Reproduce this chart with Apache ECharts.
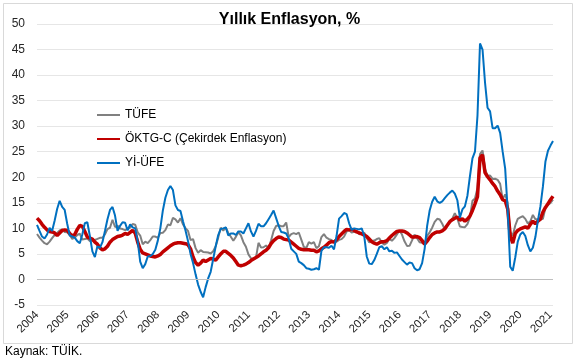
<!DOCTYPE html>
<html><head><meta charset="utf-8">
<script src="https://cdn.jsdelivr.net/npm/echarts@6/dist/echarts.min.js"></script>
<style>html,body{margin:0;padding:0;background:#fff}#c{width:579px;height:361px}</style>
</head><body><div id="c"></div>
<script>
const years = [2004,2005,2006,2007,2008,2009,2010,2011,2012,2013,2014,2015,2016,2017,2018,2019,2020,2021];
const lastYearMonths = 2;
const yTicks = {min: -5, max: 50, step: 5};

const tufe = [
8.9,8.2,7.6,7.1,6.9,7.4,8.1,8.7,9.1,9.6,9.8,9.3,
9.24,8.69,7.94,8.18,8.70,8.95,7.82,7.91,7.99,7.52,7.61,7.72,
7.93,8.15,8.16,8.83,9.86,10.12,11.69,10.26,10.55,9.98,9.86,9.65,
9.93,10.16,10.86,10.72,9.23,8.60,6.90,7.39,7.12,7.70,8.40,8.39,
8.17,9.10,9.15,9.66,10.74,10.61,12.06,11.77,11.13,11.99,10.76,10.06,
9.50,7.73,7.89,6.13,5.24,5.73,5.39,5.33,5.27,5.08,5.53,6.53,
8.19,10.13,9.56,10.19,9.10,8.37,7.58,8.33,9.24,8.62,7.29,6.40,
4.90,4.16,3.99,4.26,7.17,6.24,6.31,6.65,6.15,7.66,9.48,10.45,
10.61,10.43,10.43,11.14,8.28,8.87,9.07,8.88,9.19,7.80,6.37,6.16,
7.31,7.03,7.29,6.13,6.51,8.30,8.88,8.17,7.88,7.71,7.32,7.40,
7.75,7.89,8.39,9.38,9.66,9.16,9.32,9.54,8.86,8.96,9.15,8.17,
7.24,7.55,7.61,7.91,8.09,7.20,6.81,7.14,7.95,7.58,8.10,8.81,
9.58,8.78,7.46,6.57,6.58,7.64,8.79,8.05,7.28,7.16,7.00,8.53,
9.22,10.13,11.29,11.87,11.72,10.90,9.79,10.68,11.20,11.90,12.98,11.92,
10.35,10.26,10.23,10.85,12.15,15.39,15.85,17.90,24.52,25.24,21.62,20.30,
20.35,19.67,19.71,19.50,18.71,15.72,16.65,15.01,9.26,8.55,10.56,11.84,
12.15,12.37,11.86,10.94,11.39,12.62,11.76,11.77,11.75,11.89,14.03,14.60,
14.97,15.61];

const oktgc = [
12.0,11.5,10.8,10.2,9.7,9.4,9.3,9.1,8.6,9.1,9.6,9.7,
9.6,9.0,8.5,8.8,9.8,10.6,10.4,9.4,8.3,8.1,7.9,7.3,
6.9,6.2,5.8,6.0,6.5,7.3,7.8,8.1,8.4,8.5,8.7,9.0,
8.8,9.2,9.6,9.1,7.3,5.9,5.2,5.0,4.8,4.6,4.5,4.4,
4.6,4.9,5.4,5.8,6.2,6.6,6.9,7.1,7.2,7.2,7.1,7.0,
6.8,6.0,4.4,3.3,2.8,3.2,3.8,3.5,3.8,4.1,4.0,3.8,
4.4,5.0,5.5,5.5,5.1,4.7,4.2,3.5,2.8,2.7,2.8,3.0,
3.3,3.7,4.0,4.3,4.6,5.0,5.4,5.7,6.2,7.0,7.6,8.0,
8.3,8.2,7.9,7.8,7.7,7.3,6.9,6.5,6.1,5.9,5.8,5.8,
5.8,5.7,5.7,5.4,5.6,6.0,6.3,6.7,7.2,7.4,7.3,7.8,
8.4,8.9,9.4,9.8,9.7,9.8,9.6,9.3,9.1,8.9,8.7,8.4,
7.9,7.4,7.1,6.9,7.2,7.4,7.4,7.6,8.1,8.6,9.0,9.4,
9.5,9.5,9.4,9.1,8.7,8.3,8.3,8.4,8.2,7.6,6.9,7.5,
8.2,8.8,9.1,9.3,9.3,9.5,9.9,10.6,11.3,11.7,12.0,12.2,
11.6,11.9,11.4,11.8,12.4,13.5,14.8,16.2,23.8,24.4,20.9,20.1,
19.5,18.8,18.2,17.3,16.6,15.6,15.4,13.8,8.6,7.1,9.0,9.6,
9.9,10.1,10.3,10.0,10.8,11.4,10.9,11.4,11.8,13.2,14.1,14.8,
15.6,16.3];

const yiufe = [
10.7,9.5,8.4,8.0,8.8,10.1,9.5,11.5,13.8,15.4,14.2,13.6,
10.9,8.6,8.4,8.2,7.5,7.1,8.8,11.0,11.2,8.5,5.5,4.4,
6.5,6.2,7.3,9.5,11.8,13.6,14.2,12.5,9.5,10.5,11.2,11.1,
9.6,10.8,10.2,10.0,7.5,3.5,2.2,3.0,4.5,4.6,5.0,5.8,
7.6,10.0,13.5,16.0,17.5,18.3,17.5,14.5,13.6,13.4,11.4,9.6,
7.5,5.0,3.2,1.0,-1.0,-2.4,-3.5,-1.5,0.2,1.5,4.0,6.5,
8.7,9.9,10.0,10.2,8.6,9.0,9.0,8.7,9.4,9.4,9.0,10.0,
11.0,9.4,8.4,9.5,10.9,10.4,10.4,11.0,11.8,12.6,13.5,12.0,
10.5,9.3,9.2,9.0,8.0,6.0,5.5,5.0,3.5,3.2,2.8,2.2,
2.1,1.9,2.0,2.2,1.9,5.6,6.3,6.3,6.2,6.6,5.9,8.5,
11.9,12.4,13.0,12.8,11.0,9.7,10.0,9.9,9.8,10.0,8.5,4.5,
3.1,3.0,3.8,5.0,6.3,6.5,5.9,6.3,5.5,5.6,5.2,5.3,
4.6,3.9,3.4,2.9,3.3,3.2,2.2,1.8,2.0,3.2,6.0,10.5,
13.5,15.2,16.2,15.3,15.0,15.3,15.9,16.5,17.0,17.4,16.8,15.5,
12.1,13.7,14.3,16.4,20.2,23.7,25.0,32.1,46.2,45.0,38.5,33.6,
32.9,29.6,29.6,30.1,28.7,25.0,21.7,13.5,2.5,1.7,4.3,7.4,
8.8,9.3,8.5,6.7,5.5,6.2,8.3,11.5,14.3,18.2,23.1,25.2,
26.2,27.1];

const seriesNames = ['TÜFE', 'ÖKTG-C (Çekirdek Enflasyon)', 'Yİ-ÜFE'];
const seriesColors = ['#808080', '#c00000', '#0070c0'];
const titleText = 'Yıllık Enflasyon, %';
const sourceText = 'Kaynak: TÜİK.';

const months = [];
years.forEach((y, k) => {
  const n = (k === years.length - 1) ? lastYearMonths : 12;
  for (let m = 1; m <= n; m++) months.push(y + '-' + (m < 10 ? '0' + m : m));
});

const FONT = 'Liberation Sans, Arial, sans-serif';
const chart = echarts.init(document.getElementById('c'), null, {renderer: 'canvas'});
chart.setOption({
  animation: false,
  backgroundColor: '#fff',
  title: {
    text: titleText, left: 'center', top: 12, padding: 0,
    textStyle: {fontFamily: FONT, fontSize: 16, fontWeight: 'bold', color: '#000'}
  },
  legend: {
    orient: 'vertical', left: 96, top: 109, padding: 0,
    itemWidth: 23, itemHeight: 14, itemGap: 12,
    itemStyle: {opacity: 0},
    textStyle: {fontFamily: FONT, fontSize: 12, color: '#000'},
    data: seriesNames
  },
  grid: {left: 37, right: 26, top: 24, bottom: 56, containLabel: false},
  xAxis: {
    type: 'category', data: months, boundaryGap: false,
    axisLine: {show: false}, axisTick: {show: false},
    axisLabel: {
      interval: 11, rotate: 45, margin: 8, fontFamily: FONT, fontSize: 11.5, color: '#262626',
      formatter: v => v.slice(0, 4)
    },
    splitLine: {show: false}
  },
  yAxis: {
    type: 'value', min: yTicks.min, max: yTicks.max, interval: yTicks.step,
    axisLine: {show: false}, axisTick: {show: false},
    axisLabel: {fontFamily: FONT, fontSize: 12, color: '#262626', margin: 12},
    splitLine: {lineStyle: {color: '#e6e6e6', width: 1}}
  },
  series: [
    {name: seriesNames[0], type: 'line', data: tufe, symbol: 'none',
     lineStyle: {color: seriesColors[0], width: 2}, itemStyle: {color: seriesColors[0]},
     markLine: {silent: true, symbol: 'none', label: {show: false},
       lineStyle: {color: '#bfbfbf', width: 1, type: 'solid'}, data: [{yAxis: 0}]}},
    {name: seriesNames[1], type: 'line', data: oktgc, symbol: 'none',
     lineStyle: {color: seriesColors[1], width: 3.5}, itemStyle: {color: seriesColors[1]}},
    {name: seriesNames[2], type: 'line', data: yiufe, symbol: 'none',
     lineStyle: {color: seriesColors[2], width: 2}, itemStyle: {color: seriesColors[2]}}
  ],
  graphic: [
    {type: 'rect', shape: {x: 3.5, y: 3.5, width: 569, height: 340},
     style: {fill: 'none', stroke: '#d9d9d9', lineWidth: 1}, silent: true, z: -1},
    {type: 'text', left: 5, top: 346,
     style: {text: sourceText, font: '12px ' + FONT, fill: '#000'}}
  ]
});
</script></body></html>
